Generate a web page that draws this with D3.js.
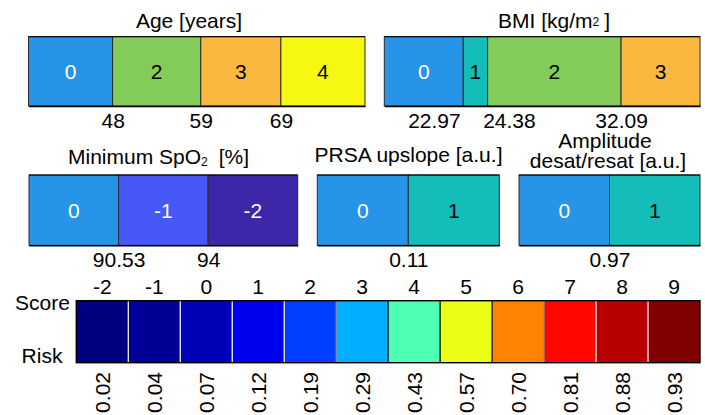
<!DOCTYPE html>
<html>
<head>
<meta charset="utf-8">
<script src="https://cdn.jsdelivr.net/npm/d3@7"></script>
<style>
  body { margin: 0; background: #fff; }
  svg { display: block; font-family: "Liberation Sans", Arial, sans-serif; }
</style>
</head>
<body>
<script>
// cut-off values and scores per variable
var ageCuts = [48, 59, 69],
    ageScores = [0, 2, 3, 4],
    ageExtent = [37.5, 79.5];

var bmiCuts = [22.97, 24.38, 32.09],
    bmiScores = [0, 1, 2, 3],
    bmiExtent = [18.41, 36.65];

var spo2Cuts = [90.53, 94],
    spo2Scores = [0, -1, -2],
    spo2Extent = [87.06, 97.47];

var prsaCuts = [0.11],
    prsaScores = [0, 1],
    prsaExtent = [0, 0.22];

var ampCuts = [0.97],
    ampScores = [0, 1],
    ampExtent = [0.92, 1.02];

// total score -> risk
var totalScores = [-2, -1, 0, 1, 2, 3, 4, 5, 6, 7, 8, 9],
    risks = [0.02, 0.04, 0.07, 0.12, 0.19, 0.29, 0.43, 0.57, 0.70, 0.81, 0.88, 0.93];

var width = 705, height = 415, fs = 21;

var svg = d3.select("body").append("svg")
    .attr("width", width)
    .attr("height", height);

var scoreColor = d3.scaleOrdinal()
    .domain([-2, -1, 0, 1, 2, 3, 4])
    .range(["#3d27a8", "#4659f6", "#2794e8", "#14bdb8", "#84cc5a", "#fab83f", "#f7f811"]);

function panel(cuts, scores, extent, x0, x1, y0, y1) {
  var x = d3.scaleLinear().domain(extent).range([x0, x1]);
  var edges = [extent[0]].concat(cuts, [extent[1]]);
  var segs = scores.map(function(s, i) { return {s: s, a: edges[i], b: edges[i + 1]}; });

  var g = svg.append("g");

  g.selectAll("rect")
      .data(segs)
    .enter().append("rect")
      .attr("x", function(d) { return x(d.a); })
      .attr("y", y0)
      .attr("width", function(d) { return x(d.b) - x(d.a); })
      .attr("height", y1 - y0)
      .attr("fill", function(d) { return scoreColor(d.s); })
      .attr("stroke", "#2a2a2a")
      .attr("stroke-width", 1);

  g.selectAll(".seg")
      .data(segs)
    .enter().append("text")
      .attr("class", "seg")
      .attr("x", function(d) { return (x(d.a) + x(d.b)) / 2; })
      .attr("y", (y0 + y1) / 2)
      .attr("dy", ".36em")
      .attr("text-anchor", "middle")
      .attr("font-size", fs)
      .attr("fill", function(d) { return d.s <= 0 ? "#fff" : "#000"; })
      .text(function(d) { return d.s; });

  g.append("line")
      .attr("x1", x0).attr("x2", x1)
      .attr("y1", y0).attr("y2", y0)
      .attr("stroke", "#000");

  var ax = g.append("g")
      .attr("transform", "translate(0," + y1 + ")")
      .call(d3.axisBottom(x).tickValues(cuts).tickSize(0).tickPadding(7)
        .tickFormat(function(d) { return String(d); }));
  ax.select(".domain").attr("stroke", "#000").attr("stroke-width", 1.6);
  ax.selectAll("text").attr("font-size", fs).attr("font-family", null).attr("fill", "#000");

  // pull apart labels that would overlap
  ax.selectAll(".tick text").each(function(d, i) {
    var prev = i > 0 && x(d) - x(cuts[i - 1]) < 60,
        next = i < cuts.length - 1 && x(cuts[i + 1]) - x(d) < 60;
    if (next) d3.select(this).attr("text-anchor", "end").attr("x", -3);
    if (prev) d3.select(this).attr("text-anchor", "start").attr("x", -5);
  });
  return g;
}

panel(ageCuts, ageScores, ageExtent, 28.5, 365, 36.7, 106);
panel(bmiCuts, bmiScores, bmiExtent, 384.3, 700, 36.7, 106);
panel(spo2Cuts, spo2Scores, spo2Extent, 29, 297.7, 175, 245.3);
panel(prsaCuts, prsaScores, prsaExtent, 317.3, 499.3, 175, 245.3);
panel(ampCuts, ampScores, ampExtent, 519, 700, 175, 245.3);

// titles
function title(x, y, anchor) {
  return svg.append("text")
      .attr("x", x).attr("y", y)
      .attr("text-anchor", anchor)
      .attr("font-size", fs)
      .attr("fill", "#000");
}
title(189, 28, "middle").text("Age [years]");

var bmiT = title(498, 28, "start");
bmiT.append("tspan").text("BMI [kg/m");
bmiT.append("tspan").attr("font-size", 12).attr("dy", -2).text("2");
bmiT.append("tspan").attr("dy", 2).attr("dx", 5).text("]");

var spoT = title(68, 163.5, "start");
spoT.append("tspan").text("Minimum SpO");
spoT.append("tspan").attr("font-size", 12).attr("dy", 2).text("2");
spoT.append("tspan").attr("dy", -2).attr("dx", 11).text("[%]");

title(408.5, 161.5, "middle").text("PRSA upslope [a.u.]");
title(605, 148, "middle").text("Amplitude");
title(608, 168.3, "middle").text("desat/resat [a.u.]");

// risk colour bar
function jet(v) {
  function c(t) { return Math.round(255 * Math.max(0, Math.min(1, t))); }
  return d3.rgb(c(1.5 - Math.abs(4 * v - 3)), c(1.5 - Math.abs(4 * v - 2)), c(1.5 - Math.abs(4 * v - 1)));
}
var riskColor = d3.scaleSequential(jet).domain(d3.extent(risks));

var bx = d3.scaleBand().domain(totalScores).range([76.3, 700]),
    by0 = 300.7, by1 = 362.7;

var cb = svg.append("g");
var cells = totalScores.map(function(s, i) { return {s: s, r: risks[i]}; });

cb.selectAll("rect")
    .data(cells)
  .enter().append("rect")
    .attr("x", function(d) { return bx(d.s); })
    .attr("y", by0)
    .attr("width", bx.bandwidth())
    .attr("height", by1 - by0)
    .attr("fill", function(d) { return riskColor(d.r); });

function lum(c) { c = d3.rgb(c); return (0.2126 * c.r + 0.7152 * c.g + 0.0722 * c.b) / 255; }

cb.selectAll(".sep")
    .data(d3.range(1, cells.length))
  .enter().append("line")
    .attr("class", "sep")
    .attr("x1", function(i) { return bx(totalScores[i]); })
    .attr("x2", function(i) { return bx(totalScores[i]); })
    .attr("y1", by0).attr("y2", by1)
    .attr("stroke-width", 1.2)
    .attr("stroke", function(i) {
      var a = lum(riskColor(risks[i - 1])) > 0.4, b = lum(riskColor(risks[i])) > 0.4;
      return a && b ? "#000" : (!a && !b ? "#fff" : "#888");
    });

cb.append("rect")
    .attr("x", 76.3).attr("y", by0)
    .attr("width", 700 - 76.3).attr("height", by1 - by0)
    .attr("fill", "none")
    .attr("stroke", "#000")
    .attr("stroke-width", 1.4);

var scoreAxis = cb.append("g")
    .attr("transform", "translate(0," + by0 + ")")
    .call(d3.axisTop(bx).tickSize(0).tickPadding(6.7));
scoreAxis.select(".domain").remove();
scoreAxis.selectAll("text").attr("font-size", fs).attr("font-family", null).attr("fill", "#000");

cb.selectAll(".risk")
    .data(cells)
  .enter().append("text")
    .attr("class", "risk")
    .attr("text-anchor", "end")
    .attr("font-size", fs)
    .attr("transform", function(d) {
      return "translate(" + (bx(d.s) + bx.bandwidth() / 2 + 7.5) + ",372) rotate(-90)";
    })
    .text(function(d) { return d3.format(".2f")(d.r); });

title(42.5, 310, "middle").text("Score");
title(42, 363.3, "middle").text("Risk");
</script>
</body>
</html>
